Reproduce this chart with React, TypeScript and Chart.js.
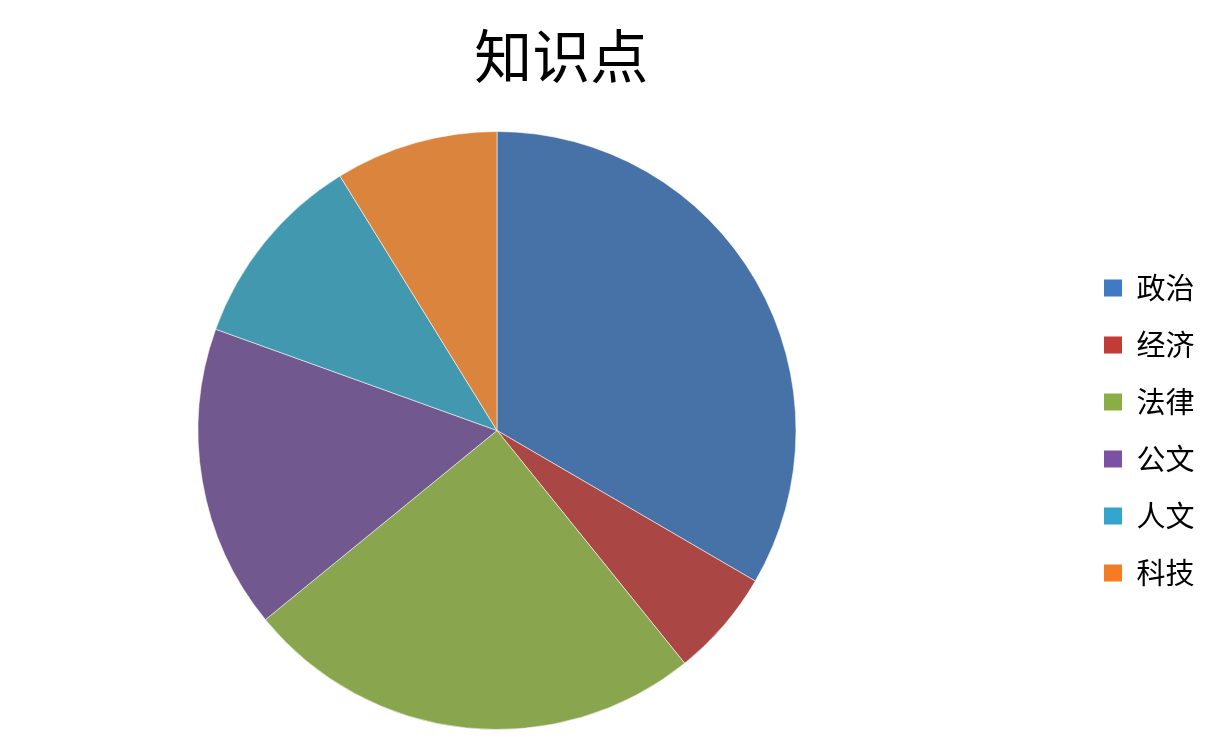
import { useEffect, useRef } from 'react';
import { Chart, ChartConfiguration, registerables } from 'chart.js';

Chart.register(...registerables);

const categories = ['政治', '经济', '法律', '公文', '人文', '科技'];
const shares = [33.4, 5.8, 24.9, 16.4, 10.7, 8.8];
const sliceColors = ['#4672A8', '#AA4643', '#89A54E', '#71588F', '#4198AF', '#DB843D'];
const legendColors = ['#3F7AC2', '#C13B37', '#8AAE45', '#7B52A3', '#34A5CC', '#F47C22'];

const cjkFont = '"Noto Sans CJK SC", "Noto Sans", sans-serif';

// canvas is wider than the window and shifted left, so the pie sits left of centre
const SHIFT = 82;

export default function App() {
  const canvasRef = useRef<HTMLCanvasElement>(null);
  const chartRef = useRef<Chart | null>(null);

  useEffect(() => {
    if (!canvasRef.current) return;
    if (chartRef.current) chartRef.current.destroy();
    const ctx = canvasRef.current.getContext('2d');
    if (!ctx) return;

    const config: ChartConfiguration = {
      type: 'pie',
      data: {
        labels: categories,
        datasets: [{
          data: shares,
          backgroundColor: sliceColors,
          borderColor: 'rgba(255, 255, 255, 0.55)',
          borderWidth: 1,
          hoverOffset: 0
        }]
      },
      options: {
        responsive: false,
        animation: false,
        events: [],
        layout: {
          padding: { left: 0, right: 5.5, top: 0, bottom: 18 }
        },
        plugins: {
          title: {
            display: true,
            text: '知识点',
            color: '#000',
            font: { family: cjkFont, size: 58, weight: 'normal' },
            padding: { top: 21, bottom: 40.4 }
          },
          legend: {
            position: 'right',
            fullSize: false,
            labels: {
              color: '#000',
              font: { family: cjkFont, size: 29 },
              boxWidth: 18,
              boxHeight: 17,
              padding: 28,
              generateLabels: () => categories.map((name, i) => ({
                text: name,
                fillStyle: legendColors[i],
                strokeStyle: legendColors[i],
                lineWidth: 0,
                hidden: false,
                index: i
              }))
            }
          },
          tooltip: { enabled: false }
        }
      }
    };

    chartRef.current = new Chart(ctx, config);

    return () => {
      if (chartRef.current) {
        chartRef.current.destroy();
        chartRef.current = null;
      }
    };
  }, []);

  return (
    <div style={{ position: 'fixed', left: 0, top: 0, width: 1210, height: 748, background: '#fff', overflow: 'hidden' }}>
      <canvas
        ref={canvasRef}
        width={1210 + SHIFT}
        height={748}
        style={{ display: 'block', position: 'absolute', left: -SHIFT, top: 0 }}
      ></canvas>
    </div>
  );
}
